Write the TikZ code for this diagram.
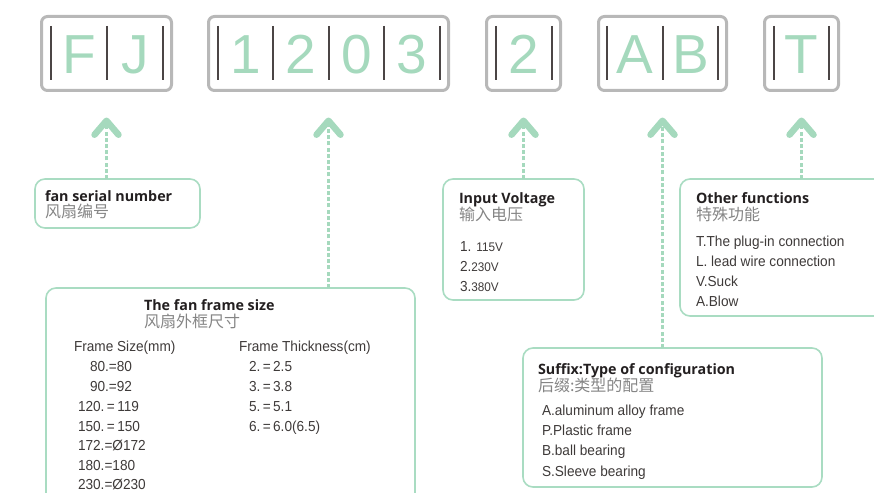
\documentclass[tikz,border=0pt]{standalone}
\usepackage{fontspec}
\setmainfont{Liberation Sans}
\newfontfamily\condfont[FakeStretch=0.94]{Liberation Sans}
\newfontfamily\headfont{Open Sans}
\newfontfamily\cjkfont{Noto Sans CJK SC}
\usetikzlibrary{arrows.meta}
\definecolor{ink}{HTML}{231F20}
\definecolor{bodyink}{HTML}{3E3A39}
\definecolor{cjkgray}{HTML}{858585}
\definecolor{mint}{HTML}{A5D9BD}
\definecolor{mintline}{HTML}{A9DCC2}
\definecolor{framegray}{HTML}{B8B8B8}
\definecolor{barink}{HTML}{4B4545}
\newcommand{\bodysize}{\fontsize{14.5}{17}\selectfont}
\newcommand{\minor}{\fontsize{12.5}{15}\selectfont}
\tikzset{
 every node/.append style={inner sep=0pt,outer sep=0pt},
 codebox/.style={draw=framegray,line width=3pt,rounded corners=6pt,minimum height=74pt},
 bar/.style={draw=barink,line width=1.2pt},
 glyph/.style={anchor=base,text=mint,font=\fontsize{55}{60}\selectfont},
 infobox/.style={draw=mintline,line width=1.6pt,rounded corners=10pt,anchor=north west},
 head/.style={anchor=base west,text=ink,font=\headfont\bfseries\fontsize{14.3}{16}\selectfont},
 cjk/.style={anchor=base west,text=cjkgray,font=\cjkfont\fontsize{16}{18}\selectfont},
 item/.style={anchor=base west,text=bodyink,font=\condfont\bodysize},
 pointer/.style={draw=mint,line width=2.4pt,dash pattern=on 4pt off 2.2pt,-{Straight Barb[length=14pt,width=24pt,line width=6.5pt,round]}},
}

\begin{document}
\begin{tikzpicture}[x=1pt,y=-1pt]

\useasboundingbox (0,0) rectangle (874,492);
\node[codebox,minimum width=130pt] (fj) at (106.5,53.5) {};
\node[codebox,minimum width=240pt] (num) at (328.5,53.5) {};
\node[codebox,minimum width=74pt] (volt) at (523.5,53.5) {};
\node[codebox,minimum width=128pt] (ab) at (662.5,53.5) {};
\node[codebox,minimum width=74pt] (t) at (801.5,53.5) {};
\foreach \x in {51,107,163,218,273,329,384,440,496,552,607,663,718,774,829}
  \draw[bar] (\x,26) -- (\x,80);
\foreach \x/\c [count=\i] in {79/F,135/J,245.5/1,301/2,356.5/0,412/3,524/2,635/A,690.5/B,801.5/T}
  \node[glyph] (g\i) at (\x,74) {\c};

\node[infobox,minimum width=165pt,minimum height=49pt] (serial) at (35,179) {};
\node[head] (serialhead) at (45,201) {fan serial number};
\node[cjk] (serialcjk) at (45,217) {风扇编号};

\node[infobox,minimum width=369pt,minimum height=232pt] (frame) at (46,288) {};
\node[head] (framehead) at (144,310) {The fan frame size};
\node[cjk] (framecjk) at (144,327) {风扇外框尺寸};
\node[item] (sizehead) at (74,351) {Frame Size(mm)};
\foreach \x/\y/\t [count=\i] in {90/371/{80.=80},90/391/{90.=92},78/411/{120.\,=\,119},78/431/{150.\,=\,150},78/450/{172.=Ø172},78/470/{180.=180},78/489/{230.=Ø230}}
  \node[item] (size\i) at (\x,\y) {\t};
\node[item] (thickhead) at (239,351) {Frame Thickness(cm)};
\foreach \y/\t [count=\i] in {371/{2.\,=\,2.5},391/{3.\,=\,3.8},411/{5.\,=\,5.1},431/{6.\,=\,6.0(6.5)}}
  \node[item] (thick\i) at (249,\y) {\t};

\node[infobox,minimum width=141pt,minimum height=121pt] (voltage) at (443,179) {};
\node[head] (voltagehead) at (459,203) {Input Voltage};
\node[cjk] (voltagecjk) at (459,220) {输入电压};
\foreach \y/\t [count=\i] in {251/{1. {\minor 115V}},271/{2.{\minor 230V}},291/{3.{\minor 380V}}}
  \node[item] (volt\i) at (460,\y) {\t};

\node[infobox,minimum width=220pt,minimum height=137pt] (other) at (680,179) {};
\node[head] (otherhead) at (696,203) {Other functions};
\node[cjk] (othercjk) at (696,220) {特殊功能};
\foreach \y/\t [count=\i] in {246/{T.The plug-in connection},266/{L. lead wire connection},286/{V.Suck},306/{A.Blow}}
  \node[item] (other\i) at (696,\y) {\t};

\node[infobox,minimum width=299pt,minimum height=139pt] (suffix) at (523,348) {};
\node[head] (suffixhead) at (538,374) {Suffix:Type of configuration};
\node[cjk] (suffixcjk) at (538,391) {后缀:类型的配置};
\foreach \y/\t [count=\i] in {415/{A.aluminum alloy frame},435/{P.Plastic frame},455/{B.ball bearing},476/{S.Sleeve bearing}}
  \node[item] (suffix\i) at (542,\y) {\t};

\coordinate (fjtip) at ([yshift=-27pt]fj.south);
\coordinate (numtip) at ([yshift=-27pt]num.south);
\coordinate (volttip) at ([yshift=-27pt]volt.south);
\coordinate (abtip) at ([yshift=-27pt]ab.south);
\coordinate (ttip) at ([yshift=-27pt]t.south);
\draw[pointer] (fj.south |- serial.north) -- (fjtip);
\draw[pointer] (num.south |- frame.north) -- (numtip);
\draw[pointer] (volt.south |- voltage.north) -- (volttip);
\draw[pointer] (ab.south |- suffix.north) -- (abtip);
\draw[pointer] (t.south |- other.north) -- (ttip);

\end{tikzpicture}
\end{document}
